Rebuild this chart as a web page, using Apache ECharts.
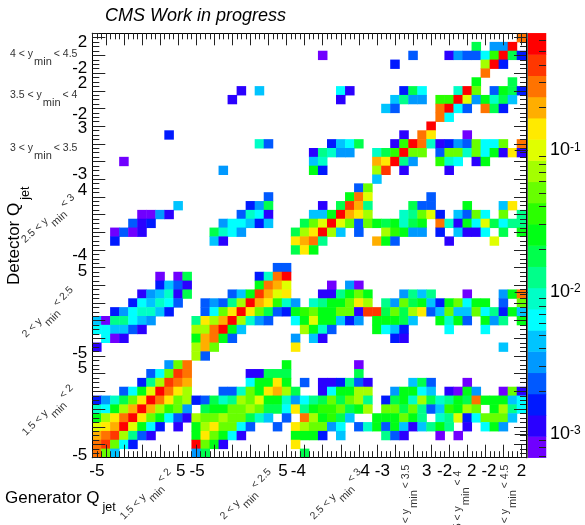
<!DOCTYPE html>
<html><head><meta charset="utf-8">
<style>html,body{margin:0;padding:0;background:#fff}#c{width:585px;height:525px}</style>
<script src="https://cdn.jsdelivr.net/npm/echarts@6/dist/echarts.min.js"></script></head>
<body><div id="c"></div>
<script>
const contourEdges=[.00068,.00096,.001356,.00191,.0027,.00381,.00538,.00759,.0107,.0151,.0213,.0301,.0425,.06,.0846,.119,.168,.238,.336,.473,.667];
const contourCenters=[.00081,.00114,.00161,.00227,.0032,.0045,.0064,.009,.0127,.0179,.0253,.0357,.0505,.0713,.1005,.142,.2,.283,.4,.56];
const contourColors=['#7000ff','#2a00ff','#0019ff','#0059ff','#0099ff','#00c4ff','#00ffff','#00ffc7','#00ff8a','#00ff4c','#00ff15','#2bff00','#68ff00','#a4ff00','#e0ff00','#ffea00','#ffae00','#ff7300','#ff3700','#ff0000'];
// each row from the top of the plot: column, contour band, column, contour band...
const t00=[47,17];
const t01=[42,9,44,4,45,4,46,19];
const t02=[25,0,35,3,39,1,40,4,41,3,42,3,43,6,44,11,45,19,46,9,47,2];
const t03=[33,2,43,13,44,19,45,2];
const t04=[43,17];
const t05=[42,10,46,9];
const t06=[16,1,18,5,27,6,28,1,34,2,35,9,36,6,40,7,41,19,42,12,44,3,45,10,46,9,47,2];
const t07=[15,1,27,1,33,5,34,8,35,4,36,4,38,11,39,11,40,19,41,14,42,4,43,10,44,7,45,9,46,5];
const t08=[32,5,33,3,38,17,39,19,40,6,41,3,43,17,44,9,45,2];
const t09=[38,17,39,6];
const t10=[37,19];
const t11=[8,2,34,1,36,17,37,15,41,0];
const t12=[18,7,19,3,26,2,27,5,28,6,29,9,33,1,34,11,35,19,36,17,37,7,38,1,39,2,40,4,41,3,42,12,43,6,44,6,45,12,47,17];
const t13=[24,1,25,8,26,7,27,4,28,4,31,7,32,9,33,11,34,19,35,12,36,12,38,3,39,12,40,12,41,7,42,12,43,6,44,10,45,1,46,15,47,1];
const t14=[3,0,24,5,25,7,31,16,32,15,33,19,34,8,35,4,38,11,39,7,40,6,42,1,43,10];
const t15=[14,4,24,10,25,2,31,13,32,18,34,1,39,1];
const t16=[31,5];
const t17=[29,3,30,12];
const t18=[19,3,28,10,29,17,30,14,37,3];
const t19=[9,5,17,2,18,4,19,9,25,1,27,9,28,18,29,16,30,8,35,9,36,3,37,3,41,10,45,5,46,15];
const t20=[5,0,6,0,7,4,8,1,16,3,17,7,18,6,19,1,24,5,25,5,26,10,27,19,28,16,29,15,30,13,34,7,35,8,36,12,37,14,38,2,40,5,41,3,42,12,43,6,45,12,47,8];
const t21=[4,3,5,1,6,2,14,4,15,6,16,6,17,5,18,2,19,5,23,9,24,12,25,14,26,19,27,14,28,12,29,3,30,12,31,10,32,9,33,10,34,7,35,9,36,10,38,17,39,7,40,1,41,10,42,6,43,14,44,9,45,6,46,8,47,8];
const t22=[2,0,3,3,4,0,5,1,13,9,14,7,15,6,16,4,22,9,23,13,24,15,25,19,26,13,27,5,29,3,32,13,33,11,34,10,35,4,36,4,38,2,40,5,41,1,42,1,43,6,45,9,47,10];
const t23=[2,2,13,5,14,1,22,15,23,16,24,17,25,8,31,16,32,10,33,3,39,1,44,14];
const t24=[22,9,23,15,24,10];
const t25=[];
const t26=[20,3,21,3];
const t27=[7,0,9,0,10,9,18,2,19,7,20,17,21,19];
const t28=[7,2,8,5,9,3,10,1,18,10,19,17,20,16,21,14,26,0,28,4,29,0];
const t29=[5,1,6,4,7,5,8,7,9,1,10,9,15,3,16,5,17,10,18,18,19,16,20,14,21,15,25,1,26,1,27,8,28,10,29,12,30,10,34,4,35,8,36,5,37,8,41,0,45,4,46,10,47,17];
const t30=[4,2,5,6,6,5,7,7,8,6,9,3,12,3,13,4,14,3,15,8,16,13,17,19,18,16,19,15,20,11,21,7,22,4,24,7,25,8,26,10,27,10,28,12,29,15,30,13,32,8,33,4,34,12,35,9,36,10,37,5,38,2,39,10,40,12,41,6,42,10,43,10,45,3,47,12];
const t31=[2,2,3,4,4,6,5,7,6,7,7,5,8,2,12,3,13,6,14,12,15,15,16,19,17,15,18,12,19,9,20,3,21,2,22,10,23,11,24,12,25,10,26,10,27,12,28,12,29,1,30,18,31,18,32,9,33,12,34,9,35,13,36,15,37,3,38,5,39,12,40,5,41,5,42,12,43,6,44,8,45,2,46,10,47,5];
const t32=[0,5,1,0,2,8,3,8,4,6,5,5,6,4,11,8,12,15,13,13,14,16,15,19,16,13,17,7,18,4,19,3,22,6,23,10,24,14,25,10,26,10,27,5,28,2,29,4,31,10,32,10,33,10,34,9,35,5,38,10,39,7,40,10,41,3,43,10,44,4,45,8,47,10];
const t33=[0,6,1,6,2,5,3,5,4,3,5,1,11,13,12,13,13,17,14,19,15,10,16,5,23,13,24,10,25,7,26,3,31,10,32,6,33,5,34,2,39,6,43,6];
const t34=[1,6,2,0,3,1,11,10,12,16,13,17,14,10,15,3,22,4,24,5,25,1,33,2,34,1];
const t35=[0,1,11,13,12,16,13,12,22,15,45,5];
const t36=[11,13,12,3];
const t37=[8,4,9,12,10,17,21,10,29,0];
const t38=[6,3,7,6,8,12,9,18,10,17,17,1,18,1,19,9,20,9,21,9,29,9];
const t39=[5,2,6,8,7,13,8,18,9,17,10,16,17,6,18,10,19,10,20,15,21,10,23,3,25,1,26,1,27,2,28,8,29,3,30,1,35,5,36,9,37,3,41,0];
const t40=[3,3,4,6,5,10,6,14,7,19,8,17,9,15,10,13,14,3,15,3,16,7,17,12,18,10,19,15,20,16,21,13,22,9,25,1,26,6,27,10,28,10,29,13,30,13,33,4,34,10,35,10,36,6,37,5,39,1,40,0,41,10,42,4,45,0,46,12,47,1];
const t41=[0,2,1,4,2,7,3,9,4,12,5,15,6,19,7,17,8,15,9,12,10,13,11,2,12,3,13,9,14,7,15,8,16,13,17,12,18,14,19,10,20,10,21,7,22,4,23,6,24,8,25,9,26,12,27,9,28,12,29,13,30,8,32,2,33,9,34,10,35,7,36,13,37,9,38,7,39,8,40,10,41,9,42,17,43,10,44,10,45,10,46,5,47,6];
const t42=[0,7,1,6,2,10,3,13,4,16,5,19,6,16,7,13,8,11,9,12,10,4,12,9,13,10,14,10,15,12,16,12,17,13,18,12,19,9,20,9,21,6,22,15,23,8,24,10,25,11,26,11,27,12,28,9,29,10,30,13,32,12,33,12,34,9,35,12,36,8,37,3,38,5,39,11,40,10,41,13,42,12,44,10,45,13,46,8,47,6];
const t43=[0,10,1,13,2,15,3,17,4,19,5,15,6,12,7,10,8,6,9,3,10,1,11,13,12,12,13,12,14,13,15,12,16,12,17,9,18,7,19,5,21,3,23,17,24,13,25,10,26,11,27,9,28,5,31,10,32,10,33,10,34,12,35,10,36,8,38,7,39,8,40,14,41,2,42,6,43,12,44,12,45,12,46,5];
const t44=[0,14,1,15,2,16,3,19,4,14,5,10,6,6,7,2,9,1,11,10,12,13,13,15,14,12,15,12,16,6,17,3,20,3,22,15,23,13,24,12,25,12,26,4,27,6,29,3,30,7,31,10,32,3,33,10,34,5,35,1,36,5,37,8,38,10,39,8,41,1,43,6,44,10,45,4];
const t45=[0,16,1,17,2,18,3,13,4,8,5,3,6,1,11,10,12,15,13,12,14,10,15,6,16,1,22,10,23,10,24,10,25,2,27,5,32,8,33,3,34,1,38,0,40,0];
const t46=[0,17,1,18,2,12,3,6,4,2,11,19,12,12,13,10,14,1,22,15];
const t47=[0,17,1,12,2,5,11,4,12,9,23,9];
const rows=[t00,t01,t02,t03,t04,t05,t06,t07,t08,t09,t10,t11,t12,t13,t14,t15,t16,t17,t18,t19,t20,t21,t22,t23,t24,t25,t26,t27,t28,t29,t30,t31,t32,t33,t34,t35,t36,t37,t38,t39,t40,t41,t42,t43,t44,t45,t46,t47];

const xLabelPos=[-5,4.3,6.1,15.6,17.3,24.7,26.6,31.5,33.5,36.5,38.4,42];
const xLabelText=['-5','5','-5','5','-4','4','-3','3','-2','2','-2','2'];
const yLabelPos=[-5.2,4.65,6.34,15.6,17.4,24.7,26.5,31.8,33.3,36.9,38.5,41.5];
const yLabelText=['-5','5','-5','5','-4','4','-3','3','-2','2','-2','2'];
const colorTicks=[.001,.01,.1];
const colorMinorTicks=[.0007,.0008,.0009,.002,.003,.004,.005,.006,.007,.008,.009,.02,.03,.04,.05,.06,.07,.08,.09,.2,.3,.4,.5,.6];

const FONT='"Liberation Sans"';
const G={l:92.3,t:33.3,w:433.7,h:424.4};
const P={l:527.7,t:33.3,w:18.3,h:424.4};
const AXMIN=-5.5,AXMAX=42.5,NB=48;
const bins=[];for(let i=0;i<NB;i++)bins.push(String(i));
const majors=[],minors=[];
for(let v=-5.5;v<=42.5;v+=.5){ if(Number.isInteger(v)&&v%2===0)majors.push(v); else minors.push(v);}
const cells=[];
rows.forEach((r,t)=>{for(let i=0;i<r.length;i+=2)cells.push([r[i],NB-1-t,contourCenters[r[i+1]]]);});
const paletteCells=contourCenters.map((v,i)=>[0,i,v]);
const pieces=contourColors.map((c,i)=>({min:contourEdges[i],max:contourEdges[i+1],color:c}));

function tickAxis(kind,pos,vals,len,labels){
  const a={type:'value',gridIndex:2,position:pos,min:AXMIN,max:AXMAX,z:10,splitLine:{show:false},
    axisLine:{show:true,onZero:false,lineStyle:{color:'#000',width:1}},
    axisTick:{show:true,inside:true,length:len,customValues:vals,lineStyle:{color:'#222',width:1}},
    axisLabel:{show:false}};
  if(labels){
    a.axisLabel={show:true,customValues:labels.pos,fontFamily:FONT,fontSize:17,color:'#000',margin:5,
      formatter:v=>{const i=labels.pos.indexOf(v);return i<0?'':labels.text[i];}};
  }
  return a;
}
const meas=document.createElement('canvas').getContext('2d');
function tw(s,fs){meas.font=fs+'px '+FONT;return meas.measureText(s).width;}
function range(x,y,rotDeg,a,b){
  const fs=10.5,fsSub=11,gap=1,sub=8,col='#333';
  const w1=tw(a,fs),w2=tw('min',fsSub);
  const txt=(s,px,py,f)=>({type:'text',x:px,y:py,style:{text:s,font:f+'px '+FONT,fill:col,textAlign:'left',textVerticalAlign:'middle'}});
  return {type:'group',x,y,rotation:rotDeg*Math.PI/180,children:[
    txt(a,0,0,fs),txt('min',w1+gap,sub,fsSub),txt(b,w1+gap+w2+2,0,fs)]};
}
function title(x,y,rotDeg,s,fs,subFs,sdx,sdy){
  return {type:'group',x,y,rotation:rotDeg*Math.PI/180,children:[
    {type:'text',x:0,y:0,style:{text:s,font:fs+'px '+FONT,fill:'#000',textAlign:'left',textVerticalAlign:'middle'}},
    {type:'text',x:tw(s,fs)+sdx,y:sdy,style:{text:'jet',font:subFs+'px '+FONT,fill:'#000',textAlign:'left',textVerticalAlign:'middle'}}]};
}
const graphics=[
  {type:'text',x:105,y:16,style:{text:'CMS Work in progress',font:'italic 18px '+FONT,fill:'#000',textAlign:'left',textVerticalAlign:'middle'}},
  title(5,498,0,'Generator Q',17,12.5,3,10),
  title(14,285,90,'Detector Q',17,12.5,3,12),
  range(10,54,0,'4 < y','< 4.5'),
  range(10,95,0,'3.5 < y','< 4'),
  range(10,148,0,'3 < y','< 3.5'),
  range(23,241,42,'2.5 < y','< 3'),
  range(24,336,45,'2 < y','< 2.5'),
  range(24,434,45,'1.5 < y','< 2'),
  range(122,518,45,'1.5 < y','< 2'),
  range(222,518,45,'2 < y','< 2.5'),
  range(312,518,45,'2.5 < y','< 3'),
  range(406,532,90,'3 < y','< 3.5'),
  range(458,538,90,'3.5 < y','< 4'),
  range(505,532,90,'4 < y','< 4.5')
];
const chart=echarts.init(document.getElementById('c'),null,{renderer:'canvas'});
chart.setOption({
  animation:false,backgroundColor:'#fff',
  grid:[{left:G.l,top:G.t,width:G.w,height:G.h},{left:P.l,top:P.t,width:P.w,height:P.h},
        {left:G.l,top:G.t,width:G.w,height:G.h},{left:P.l,top:P.t,width:P.w,height:P.h}],
  xAxis:[
    {type:'category',gridIndex:0,data:bins,show:false},
    {type:'category',gridIndex:1,data:[''],show:false},
    tickAxis('x','bottom',majors,13,{pos:xLabelPos,text:xLabelText}),
    tickAxis('x','bottom',minors,6.5),
    tickAxis('x','top',majors,12),
    tickAxis('x','top',minors,6),
    {type:'value',gridIndex:3,show:false}
  ],
  yAxis:[
    {type:'category',gridIndex:0,data:bins,show:false},
    {type:'category',gridIndex:1,data:contourCenters.map(String),show:false},
    tickAxis('y','left',majors,13,{pos:yLabelPos,text:yLabelText}),
    tickAxis('y','left',minors,7),
    tickAxis('y','right',majors,12),
    tickAxis('y','right',minors,6),
    {type:'log',gridIndex:3,position:'right',min:.00068,max:.667,z:10,logBase:10,splitLine:{show:false},
      axisLine:{show:true,lineStyle:{color:'#666',width:1}},
      axisTick:{show:true,inside:true,length:13,customValues:colorTicks,lineStyle:{color:'#222'}},
      axisLabel:{show:true,customValues:colorTicks,margin:4,color:'#000',fontFamily:FONT,
        formatter:v=>'{b|10}{s|'+Math.round(Math.log10(v))+'}',
        rich:{b:{fontSize:18,fontFamily:FONT,color:'#000'},s:{fontSize:12,fontFamily:FONT,color:'#000',verticalAlign:'top',lineHeight:12}}}},
    {type:'log',gridIndex:3,position:'right',min:.00068,max:.667,z:10,logBase:10,splitLine:{show:false},
      axisLine:{show:false},
      axisTick:{show:true,inside:true,length:7,customValues:colorMinorTicks,lineStyle:{color:'#222'}},
      axisLabel:{show:false}}
  ],
  visualMap:[{type:'piecewise',show:false,dimension:2,seriesIndex:[0,1],pieces}],
  series:[
    {type:'heatmap',xAxisIndex:0,yAxisIndex:0,data:cells,z:2,progressive:0,itemStyle:{borderWidth:0}},
    {type:'heatmap',xAxisIndex:1,yAxisIndex:1,data:paletteCells,z:2,progressive:0,itemStyle:{borderWidth:0}}
  ],
  graphic:graphics
});
</script></body></html>
